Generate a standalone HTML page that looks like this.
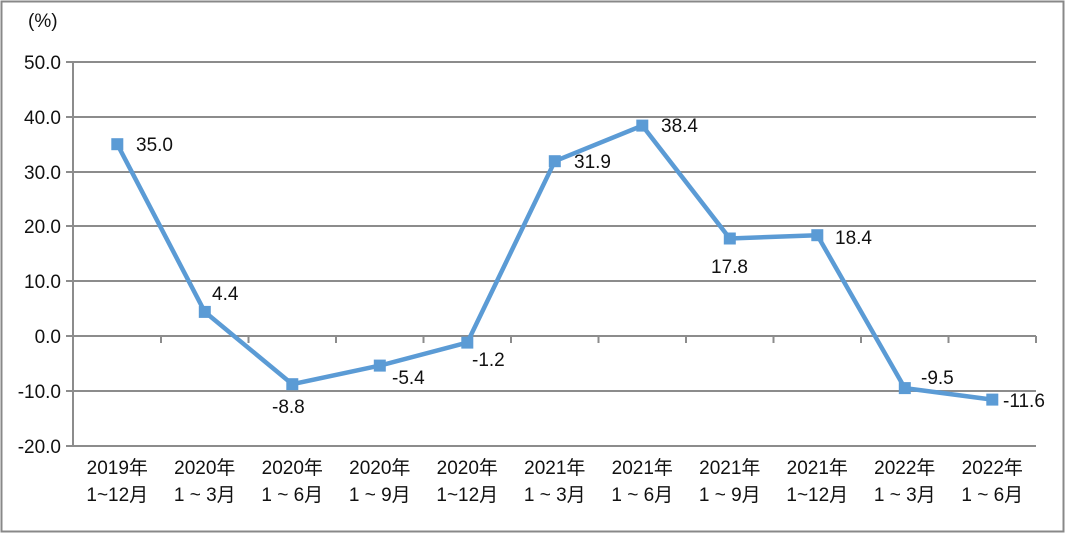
<!DOCTYPE html>
<html><head><meta charset="utf-8"><style>
body{margin:0;background:#fff}
svg{display:block}
text{font-family:"Liberation Sans","Noto Sans CJK SC",sans-serif;fill:#111}
</style></head><body>
<svg width="1065" height="534" viewBox="0 0 1065 534">
<rect x="1.5" y="1.5" width="1062" height="530" fill="#fff" stroke="#888" stroke-width="2"/>
<g stroke="#8c8c8c" stroke-width="2">
<line x1="73" y1="62" x2="1036" y2="62"/>
<line x1="73" y1="117" x2="1036" y2="117"/>
<line x1="73" y1="172" x2="1036" y2="172"/>
<line x1="73" y1="226" x2="1036" y2="226"/>
<line x1="73" y1="281" x2="1036" y2="281"/>
<line x1="73" y1="336" x2="1036" y2="336"/>
<line x1="73" y1="391" x2="1036" y2="391"/>
<line x1="73" y1="446" x2="1036" y2="446"/>
<line x1="73" y1="62" x2="73" y2="446"/>
<line x1="66" y1="62" x2="73" y2="62"/><line x1="66" y1="117" x2="73" y2="117"/><line x1="66" y1="172" x2="73" y2="172"/><line x1="66" y1="226" x2="73" y2="226"/><line x1="66" y1="281" x2="73" y2="281"/><line x1="66" y1="336" x2="73" y2="336"/><line x1="66" y1="391" x2="73" y2="391"/><line x1="66" y1="446" x2="73" y2="446"/>
<line x1="161" y1="336" x2="161" y2="343"/><line x1="248.5" y1="336" x2="248.5" y2="343"/><line x1="336" y1="336" x2="336" y2="343"/><line x1="423.5" y1="336" x2="423.5" y2="343"/><line x1="511" y1="336" x2="511" y2="343"/><line x1="598.5" y1="336" x2="598.5" y2="343"/><line x1="686" y1="336" x2="686" y2="343"/><line x1="773.5" y1="336" x2="773.5" y2="343"/><line x1="861" y1="336" x2="861" y2="343"/><line x1="948.5" y1="336" x2="948.5" y2="343"/><line x1="1036" y1="336" x2="1036" y2="343"/>
</g>
<g font-size="19" text-anchor="end">
<text x="61" y="69">50.0</text><text x="61" y="124">40.0</text><text x="61" y="179">30.0</text><text x="61" y="233">20.0</text><text x="61" y="288">10.0</text><text x="61" y="343">0.0</text><text x="61" y="398">-10.0</text><text x="61" y="453">-20.0</text>
</g>
<text x="28" y="27" font-size="19">(%)</text>
<polyline fill="none" stroke="#5b9bd5" stroke-width="4.5" stroke-linejoin="round" points="117.3,144.2 204.8,311.9 292.3,384.2 379.8,365.6 467.3,342.6 554.8,161.2 642.3,125.6 729.8,238.5 817.3,235.2 904.8,388.1 992.3,399.6"/>
<g fill="#5b9bd5">
<rect x="111.3" y="138.2" width="12" height="12"/><rect x="198.8" y="305.9" width="12" height="12"/><rect x="286.3" y="378.2" width="12" height="12"/><rect x="373.8" y="359.6" width="12" height="12"/><rect x="461.3" y="336.6" width="12" height="12"/><rect x="548.8" y="155.2" width="12" height="12"/><rect x="636.3" y="119.6" width="12" height="12"/><rect x="723.8" y="232.5" width="12" height="12"/><rect x="811.3" y="229.2" width="12" height="12"/><rect x="898.8" y="382.1" width="12" height="12"/><rect x="986.3" y="393.6" width="12" height="12"/>
</g>
<g font-size="19">
<text x="136" y="151">35.0</text>
<text x="212" y="300">4.4</text>
<text x="272" y="413">-8.8</text>
<text x="392" y="384">-5.4</text>
<text x="472" y="366">-1.2</text>
<text x="574" y="168">31.9</text>
<text x="661" y="132">38.4</text>
<text x="711" y="273">17.8</text>
<text x="835" y="244">18.4</text>
<text x="921" y="384">-9.5</text>
<text x="1003" y="407">-11.6</text>
</g>
<g font-size="19" text-anchor="middle">
<text x="117.3" y="474">2019年</text><text x="117.3" y="501">1~12月</text>
<text x="204.8" y="474">2020年</text><text x="204.8" y="501">1 ~ 3月</text>
<text x="292.3" y="474">2020年</text><text x="292.3" y="501">1 ~ 6月</text>
<text x="379.8" y="474">2020年</text><text x="379.8" y="501">1 ~ 9月</text>
<text x="467.3" y="474">2020年</text><text x="467.3" y="501">1~12月</text>
<text x="554.8" y="474">2021年</text><text x="554.8" y="501">1 ~ 3月</text>
<text x="642.3" y="474">2021年</text><text x="642.3" y="501">1 ~ 6月</text>
<text x="729.8" y="474">2021年</text><text x="729.8" y="501">1 ~ 9月</text>
<text x="817.3" y="474">2021年</text><text x="817.3" y="501">1~12月</text>
<text x="904.8" y="474">2022年</text><text x="904.8" y="501">1 ~ 3月</text>
<text x="992.3" y="474">2022年</text><text x="992.3" y="501">1 ~ 6月</text>
</g>
</svg>
</body></html>
